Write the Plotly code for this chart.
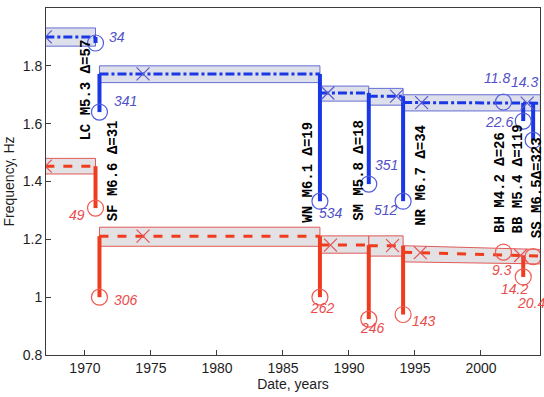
import plotly.graph_objects as go

# ---- data ----
event_names = ["LC M5.3 Δ=57", "SF M6.6 Δ=31", "WN M6.1 Δ=19", "SM M5.8 Δ=18",
               "NR M6.7 Δ=34", "BH M4.2 Δ=26", "BB M5.4 Δ=119", "SS M6.5Δ=323"]
event_years = [1970.8, 1971.1, 1987.8, 1991.5, 1994.1, 2001.7, 2003.2, 2003.95]

seg_start = [1967.0, 1971.1, 1987.8, 1991.5, 1994.1]
seg_end = [1970.8, 1987.8, 1991.5, 1994.1, 2004.5]

blue_level_a = [1.900, 1.772, 1.706, 1.695, 1.673]
blue_level_b = [1.900, 1.772, 1.706, 1.695, 1.671]
blue_low_a = [1.868, 1.742, 1.678, 1.664, 1.644]
blue_low_b = [1.868, 1.742, 1.678, 1.664, 1.644]
blue_high_a = [1.931, 1.800, 1.730, 1.722, 1.700]
blue_high_b = [1.931, 1.800, 1.730, 1.722, 1.700]
blue_cross_x = [1967.0, 1974.4, 1988.4, 1993.6, 1995.5, 2003.5]
blue_cross_y = [1.900, 1.772, 1.706, 1.695, 1.673, 1.671]
blue_drop_top = [1.900, 1.772, 1.772, 1.706, 1.695, None, 1.672, 1.672]
blue_circle = [1.879, 1.640, 1.332, 1.391, 1.332, 1.675, 1.609, 1.543]
blue_nums = ["34", "341", "534", "351", "512", "11.8", "22.6", "14.3"]

red_level_a = [1.453, 1.211, 1.180, 1.178, 1.155]
red_level_b = [1.453, 1.211, 1.180, 1.178, 1.142]
red_low_a = [1.426, 1.176, 1.152, 1.142, 1.122]
red_low_b = [1.426, 1.176, 1.152, 1.142, 1.115]
red_high_a = [1.480, 1.242, 1.212, 1.212, 1.178]
red_high_b = [1.480, 1.242, 1.212, 1.212, 1.165]
red_cross_x = [1967.0, 1974.4, 1988.6, 1993.3, 1995.4, 2003.0]
red_cross_y = [1.453, 1.211, 1.180, 1.178, 1.154, 1.144]
red_drop_top = [1.453, 1.211, 1.211, 1.180, 1.178, None, 1.145, None]
red_circle = [1.308, 1.000, 1.000, 0.924, 0.940, 1.156, 1.070, 1.140]
red_nums = ["49", "306", "262", "246", "143", "9.3", "14.2", "20.4"]

x_ticks = [1970, 1975, 1980, 1985, 1990, 1995, 2000]
y_ticks = [0.8, 1.0, 1.2, 1.4, 1.6, 1.8, 2.0]
y_ticklabels = ["0.8", "1", "1.2", "1.4", "1.6", "1.8", "2"]

# ---- label placement (positions / styles) ----
ev_label_x = [1970.08, 1972.1, 1986.9, 1990.7, 1995.4, 2001.4, 2002.8, 2004.2]
ev_label_bottom = [1.533, 1.256, 1.249, 1.256, 1.239, 1.215, 1.215, 1.197]

blue_num_pos = [(1971.67, 1.900, "left"), (1972.05, 1.680, "left"), (1987.58, 1.291, "left"),
                (1991.8, 1.457, "left"), (1993.86, 1.301, "right"), (2002.35, 1.758, "right"),
                (2002.6, 1.605, "right"), (2004.45, 1.744, "right")]
red_num_pos = [(1970.15, 1.284, "right"), (1972.05, 0.990, "left"), (1986.9, 0.962, "left"),
               (1990.7, 0.893, "left"), (1994.6, 0.917, "left"), (2000.7, 1.093, "left"),
               (2001.4, 1.028, "left"), (2002.6, 0.980, "left")]

BLUE = "rgb(25,55,230)"
BLUE_T = "rgb(80,80,200)"
RED = "rgb(240,60,30)"
RED_T = "rgb(235,75,75)"

fig = go.Figure()


def add_bands(low_a, low_b, high_a, high_b, edge, fill):
    for i in range(len(seg_start)):
        xs = [seg_start[i], seg_end[i], seg_end[i], seg_start[i], seg_start[i]]
        ys = [low_a[i], low_b[i], high_b[i], high_a[i], low_a[i]]
        fig.add_trace(go.Scatter(x=xs, y=ys, mode="lines", fill="toself",
                                 fillcolor=fill, line=dict(color=edge, width=1),
                                 hoverinfo="skip", showlegend=False))


def add_levels(la, lb, color, dash):
    for i in range(len(seg_start)):
        fig.add_trace(go.Scatter(x=[seg_start[i], seg_end[i]], y=[la[i], lb[i]],
                                 mode="lines", line=dict(color=color, width=3, dash=dash),
                                 showlegend=False, hoverinfo="skip"))


def add_drops(tops, circles, color, ring):
    for i, yr in enumerate(event_years):
        if tops[i] is not None:
            fig.add_trace(go.Scatter(x=[yr, yr], y=[tops[i], circles[i]], mode="lines",
                                     line=dict(color=color, width=4),
                                     showlegend=False, hoverinfo="skip"))
    fig.add_trace(go.Scatter(x=event_years, y=circles, mode="markers",
                             marker=dict(symbol="circle-open", size=16, color=ring,
                                         line=dict(width=1.2)),
                             showlegend=False, hoverinfo="skip"))


add_bands(blue_low_a, blue_low_b, blue_high_a, blue_high_b, "rgb(100,110,210)", "rgba(215,218,232,0.85)")
add_bands(red_low_a, red_low_b, red_high_a, red_high_b, "rgb(225,90,90)", "rgba(222,220,222,0.85)")
add_levels(blue_level_a, blue_level_b, BLUE, "dashdot")
add_levels(red_level_a, red_level_b, RED, "dash")
add_drops(blue_drop_top, blue_circle, BLUE, "rgb(80,90,220)")
add_drops(red_drop_top, red_circle, RED, "rgb(240,90,80)")

fig.add_trace(go.Scatter(x=blue_cross_x, y=blue_cross_y, mode="markers",
                         marker=dict(symbol="x-thin-open", size=13, color="rgb(90,90,210)",
                                     line=dict(width=1.2)),
                         showlegend=False, hoverinfo="skip"))
fig.add_trace(go.Scatter(x=red_cross_x, y=red_cross_y, mode="markers",
                         marker=dict(symbol="x-thin-open", size=13, color="rgb(230,80,80)",
                                     line=dict(width=1.2)),
                         showlegend=False, hoverinfo="skip"))

for name, x, yb in zip(event_names, ev_label_x, ev_label_bottom):
    fig.add_annotation(x=x, y=yb, text=name, textangle=-90, showarrow=False,
                       xanchor="center", yanchor="bottom",
                       font=dict(family="Liberation Mono, Courier New, monospace",
                                 size=14, color="black", weight="bold"))

for txt, (x, y, anc) in zip(blue_nums, blue_num_pos):
    fig.add_annotation(x=x, y=y, text=f"<i>{txt}</i>", showarrow=False,
                       xanchor=anc, yanchor="middle",
                       font=dict(family="Liberation Sans, Arial", size=14, color=BLUE_T))
for txt, (x, y, anc) in zip(red_nums, red_num_pos):
    fig.add_annotation(x=x, y=y, text=f"<i>{txt}</i>", showarrow=False,
                       xanchor=anc, yanchor="middle",
                       font=dict(family="Liberation Sans, Arial", size=14, color=RED_T))

axis_common = dict(showgrid=False, zeroline=False, showline=True, linecolor="rgb(60,60,60)",
                   linewidth=1, mirror=True, ticks="inside", ticklen=5,
                   tickcolor="rgb(60,60,60)",
                   tickfont=dict(family="Liberation Sans, Arial", size=14, color="rgb(30,30,30)"))

fig.update_xaxes(range=[1967.05, 2004.47], tickvals=x_ticks,
                 title=dict(text="Date, years", standoff=4,
                            font=dict(family="Liberation Sans, Arial", size=14, color="rgb(30,30,30)")),
                 **axis_common)
fig.update_yaxes(range=[0.8, 2.0], tickvals=y_ticks, ticktext=y_ticklabels,
                 title=dict(text="Frequency, Hz", standoff=4,
                            font=dict(family="Liberation Sans, Arial", size=14, color="rgb(30,30,30)")),
                 **axis_common)

fig.update_layout(width=544, height=397, margin=dict(l=46, r=4, t=8, b=42),
                  plot_bgcolor="white", paper_bgcolor="white")

fig.write_html("out.html")
